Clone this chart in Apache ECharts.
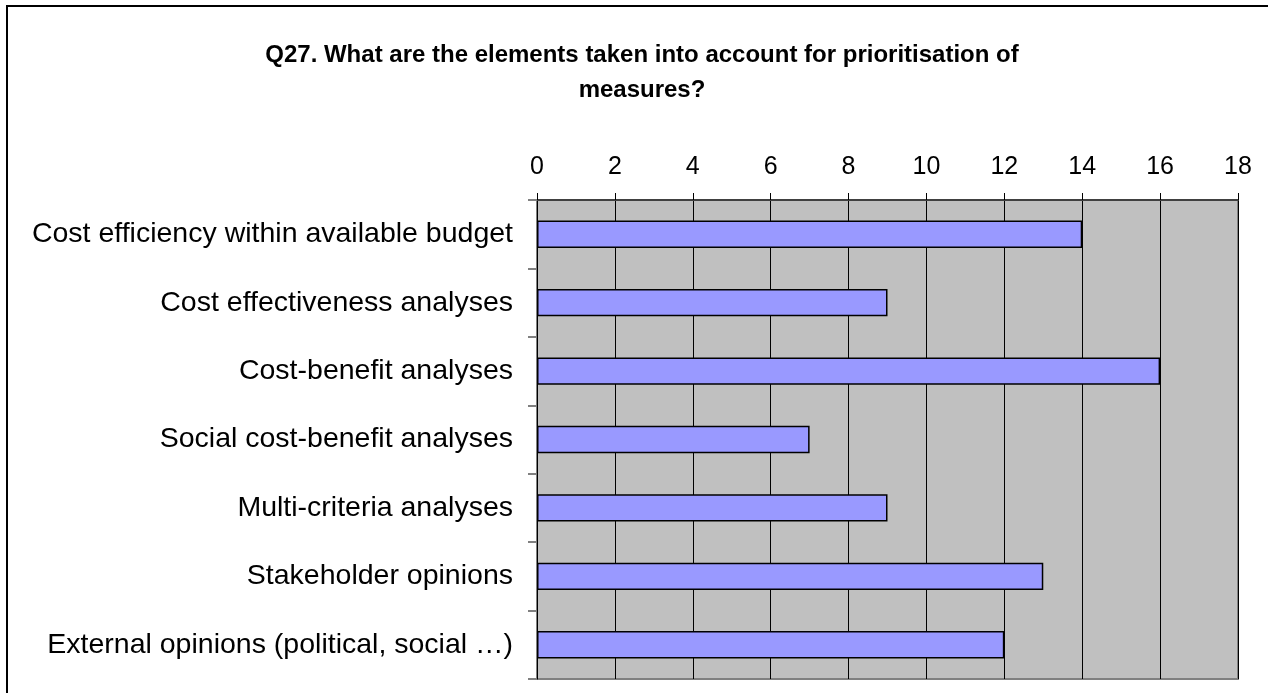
<!DOCTYPE html>
<html>
<head>
<meta charset="utf-8">
<script src="https://cdn.jsdelivr.net/npm/echarts@6/dist/echarts.min.js"></script>
<style>
  html, body { margin: 0; padding: 0; background: #fff; }
  #chart { width: 1268px; height: 693px; }
</style>
</head>
<body>
<div id="chart"></div>
<script>
// Survey answers: number of respondents per prioritisation element
const categories = [
  'Cost efficiency within available budget',
  'Cost effectiveness analyses',
  'Cost-benefit analyses',
  'Social cost-benefit analyses',
  'Multi-criteria analyses',
  'Stakeholder opinions',
  'External opinions (political, social \u2026)'
];
const counts = [14, 9, 16, 7, 9, 13, 12];
const axisMin = 0;
const axisMax = 18;
const axisStep = 2;

const chart = echarts.init(document.getElementById('chart'), null, { renderer: 'canvas' });
const FONT = '"Liberation Sans", Arial, sans-serif';

chart.setOption({
  backgroundColor: '#ffffff',
  animation: false,
  title: {
    text: 'Q27. What are the elements taken into account for prioritisation of\nmeasures?',
    left: 637,
    top: 33,
    textAlign: 'center',
    textStyle: {
      fontFamily: FONT,
      fontWeight: 'bold',
      fontSize: 24,
      lineHeight: 35,
      color: '#000'
    }
  },
  graphic: [{
    type: 'rect',
    shape: { x: 7, y: 6, width: 1400, height: 900 },
    style: { fill: null, stroke: '#000', lineWidth: 2 },
    silent: true,
    z: 100
  }],
  grid: {
    left: 537,
    top: 200,
    right: 30,
    bottom: 14,
    show: true,
    backgroundColor: '#C0C0C0',
    borderColor: '#808080',
    borderWidth: 2
  },
  xAxis: {
    type: 'value',
    position: 'top',
    min: axisMin,
    max: axisMax,
    interval: axisStep,
    axisLine: { show: true, lineStyle: { color: '#404040', width: 2 } },
    axisTick: { show: true, length: 7, lineStyle: { color: '#000', width: 1 } },
    axisLabel: { margin: 20, fontFamily: FONT, fontSize: 25, color: '#000' },
    splitLine: { show: true, lineStyle: { color: '#000', width: 1 } }
  },
  yAxis: {
    type: 'category',
    data: categories,
    inverse: true,
    axisLine: { show: true, lineStyle: { color: '#000', width: 1 } },
    axisTick: { show: true, length: 9, interval: 0, lineStyle: { color: '#808080', width: 2 } },
    axisLabel: { margin: 24, fontFamily: FONT, fontSize: 28.5, color: '#000', interval: 0, padding: [4, 0, 0, 0] },
    splitLine: { show: false }
  },
  series: [{
    type: 'bar',
    data: counts,
    barCategoryGap: '60%',
    itemStyle: { color: '#9999FF', borderColor: '#000', borderWidth: 1.5 }
  }]
});
</script>
</body>
</html>
